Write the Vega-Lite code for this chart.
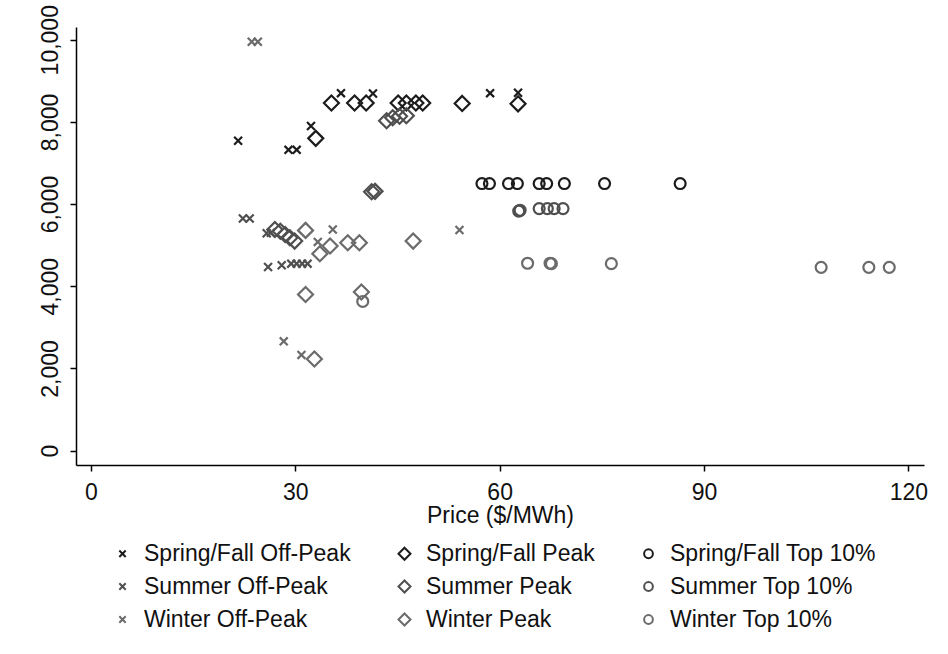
{
  "$schema": "https://vega.github.io/schema/vega-lite/v6.json",
  "width": 848,
  "height": 438,
  "autosize": {"type": "none"},
  "padding": {"left": 76, "top": 27, "right": 24, "bottom": 189},
  "background": "white",
  "config": {"view": {"stroke": null}, "font": "Liberation Sans"},
  "data": {
    "values": [
      {"group": "Spring/Fall Off-Peak", "price": 36.7, "load": 8700},
      {"group": "Spring/Fall Off-Peak", "price": 41.4, "load": 8690},
      {"group": "Spring/Fall Off-Peak", "price": 58.6, "load": 8700},
      {"group": "Spring/Fall Off-Peak", "price": 62.7, "load": 8710},
      {"group": "Spring/Fall Off-Peak", "price": 32.3, "load": 7900},
      {"group": "Spring/Fall Off-Peak", "price": 21.6, "load": 7540},
      {"group": "Spring/Fall Off-Peak", "price": 29.0, "load": 7320},
      {"group": "Spring/Fall Off-Peak", "price": 30.2, "load": 7320},
      {"group": "Spring/Fall Peak", "price": 35.3, "load": 8460},
      {"group": "Spring/Fall Peak", "price": 38.7, "load": 8460},
      {"group": "Spring/Fall Peak", "price": 40.4, "load": 8460},
      {"group": "Spring/Fall Peak", "price": 45.1, "load": 8460},
      {"group": "Spring/Fall Peak", "price": 46.3, "load": 8460},
      {"group": "Spring/Fall Peak", "price": 47.7, "load": 8460},
      {"group": "Spring/Fall Peak", "price": 48.7, "load": 8460},
      {"group": "Spring/Fall Peak", "price": 54.5, "load": 8450},
      {"group": "Spring/Fall Peak", "price": 62.7, "load": 8440},
      {"group": "Spring/Fall Peak", "price": 33.0, "load": 7600},
      {"group": "Spring/Fall Top 10%", "price": 57.4, "load": 6500},
      {"group": "Spring/Fall Top 10%", "price": 58.5, "load": 6500},
      {"group": "Spring/Fall Top 10%", "price": 61.3, "load": 6500},
      {"group": "Spring/Fall Top 10%", "price": 62.6, "load": 6500},
      {"group": "Spring/Fall Top 10%", "price": 65.8, "load": 6500},
      {"group": "Spring/Fall Top 10%", "price": 66.9, "load": 6500},
      {"group": "Spring/Fall Top 10%", "price": 69.5, "load": 6500},
      {"group": "Spring/Fall Top 10%", "price": 75.4, "load": 6500},
      {"group": "Spring/Fall Top 10%", "price": 86.5, "load": 6500},
      {"group": "Summer Off-Peak", "price": 22.3, "load": 5650},
      {"group": "Summer Off-Peak", "price": 23.3, "load": 5650},
      {"group": "Summer Off-Peak", "price": 25.8, "load": 5290},
      {"group": "Summer Off-Peak", "price": 26.4, "load": 5300},
      {"group": "Summer Off-Peak", "price": 29.4, "load": 4550},
      {"group": "Summer Off-Peak", "price": 30.2, "load": 4550},
      {"group": "Summer Off-Peak", "price": 31.0, "load": 4550},
      {"group": "Summer Off-Peak", "price": 31.8, "load": 4550},
      {"group": "Summer Off-Peak", "price": 26.0, "load": 4470},
      {"group": "Summer Off-Peak", "price": 28.0, "load": 4510},
      {"group": "Summer Peak", "price": 43.4, "load": 8030},
      {"group": "Summer Peak", "price": 44.3, "load": 8100},
      {"group": "Summer Peak", "price": 45.3, "load": 8140},
      {"group": "Summer Peak", "price": 46.3, "load": 8150},
      {"group": "Summer Peak", "price": 41.2, "load": 6300},
      {"group": "Summer Peak", "price": 41.7, "load": 6310},
      {"group": "Summer Peak", "price": 27.0, "load": 5380},
      {"group": "Summer Peak", "price": 27.8, "load": 5340},
      {"group": "Summer Peak", "price": 28.5, "load": 5260},
      {"group": "Summer Peak", "price": 29.2, "load": 5180},
      {"group": "Summer Peak", "price": 29.9, "load": 5100},
      {"group": "Summer Top 10%", "price": 62.8, "load": 5830},
      {"group": "Summer Top 10%", "price": 63.0, "load": 5850},
      {"group": "Summer Top 10%", "price": 65.8, "load": 5890},
      {"group": "Summer Top 10%", "price": 67.0, "load": 5890},
      {"group": "Summer Top 10%", "price": 68.0, "load": 5890},
      {"group": "Summer Top 10%", "price": 69.3, "load": 5890},
      {"group": "Winter Off-Peak", "price": 23.6, "load": 9950},
      {"group": "Winter Off-Peak", "price": 24.5, "load": 9950},
      {"group": "Winter Off-Peak", "price": 33.3, "load": 5080},
      {"group": "Winter Off-Peak", "price": 35.5, "load": 5380},
      {"group": "Winter Off-Peak", "price": 54.1, "load": 5370},
      {"group": "Winter Off-Peak", "price": 28.3, "load": 2660},
      {"group": "Winter Off-Peak", "price": 30.9, "load": 2330},
      {"group": "Winter Peak", "price": 31.5, "load": 5360},
      {"group": "Winter Peak", "price": 33.6, "load": 4790},
      {"group": "Winter Peak", "price": 35.1, "load": 4980},
      {"group": "Winter Peak", "price": 37.7, "load": 5060},
      {"group": "Winter Peak", "price": 39.4, "load": 5060},
      {"group": "Winter Peak", "price": 47.3, "load": 5100},
      {"group": "Winter Peak", "price": 31.5, "load": 3800},
      {"group": "Winter Peak", "price": 39.7, "load": 3860},
      {"group": "Winter Peak", "price": 32.8, "load": 2230},
      {"group": "Winter Top 10%", "price": 39.9, "load": 3630},
      {"group": "Winter Top 10%", "price": 64.1, "load": 4560},
      {"group": "Winter Top 10%", "price": 67.4, "load": 4560},
      {"group": "Winter Top 10%", "price": 67.6, "load": 4550},
      {"group": "Winter Top 10%", "price": 76.4, "load": 4550},
      {"group": "Winter Top 10%", "price": 107.2, "load": 4460},
      {"group": "Winter Top 10%", "price": 114.2, "load": 4460},
      {"group": "Winter Top 10%", "price": 117.2, "load": 4460}
    ]
  },
  "mark": {"type": "point", "filled": false, "strokeWidth": 2.2, "size": 225, "opacity": 1},
  "encoding": {
    "x": {
      "field": "price", "type": "quantitative",
      "scale": {"domain": [-2.2, 122.3], "nice": false, "zero": false},
      "axis": {
        "values": [0, 30, 60, 90, 120], "grid": false, "title": "Price ($/MWh)",
        "labelFontSize": 23, "titleFontSize": 23, "titleFontWeight": "normal",
        "tickSize": 6, "labelPadding": 10, "titlePadding": 0,
        "domainColor": "#000", "tickColor": "#000", "labelColor": "#111", "titleColor": "#111",
        "domainWidth": 1.5, "tickWidth": 1.5, "labelFlush": false, "labelOverlap": false
      }
    },
    "y": {
      "field": "load", "type": "quantitative",
      "scale": {"domain": [-350, 10310], "nice": false, "zero": false},
      "axis": {
        "values": [0, 2000, 4000, 6000, 8000, 10000], "grid": false, "title": null,
        "format": ",d", "labelAngle": 270, "labelAlign": "center", "labelBaseline": "alphabetic",
        "labelFontSize": 23, "tickSize": 6, "labelPadding": 13,
        "domainColor": "#000", "tickColor": "#000", "labelColor": "#111",
        "domainWidth": 1.5, "tickWidth": 1.5, "labelFlush": false, "labelOverlap": false
      }
    },
    "color": {
      "field": "group", "type": "nominal",
      "scale": {
        "domain": ["Spring/Fall Off-Peak", "Summer Off-Peak", "Winter Off-Peak", "Spring/Fall Peak", "Summer Peak", "Winter Peak", "Spring/Fall Top 10%", "Summer Top 10%", "Winter Top 10%"],
        "range": ["#1c1c1c", "#4f4f4f", "#6b6b6b", "#1c1c1c", "#4f4f4f", "#6b6b6b", "#1c1c1c", "#4f4f4f", "#6b6b6b"]
      },
      "legend": {
        "title": null, "orient": "none", "legendX": 35, "legendY": 515, "columns": 3,
        "labelFontSize": 23, "labelColor": "#111", "symbolSize": 144, "symbolStrokeWidth": 2,
        "rowPadding": 9, "columnPadding": 42, "labelOffset": 10, "padding": 0, "labelLimit": 0
      }
    },
    "shape": {
      "field": "group", "type": "nominal",
      "scale": {
        "domain": ["Spring/Fall Off-Peak", "Summer Off-Peak", "Winter Off-Peak", "Spring/Fall Peak", "Summer Peak", "Winter Peak", "Spring/Fall Top 10%", "Summer Top 10%", "Winter Top 10%"],
        "range": [
          "M-0.53,-0.53L0.53,0.53M-0.53,0.53L0.53,-0.53",
          "M-0.53,-0.53L0.53,0.53M-0.53,0.53L0.53,-0.53",
          "M-0.53,-0.53L0.53,0.53M-0.53,0.53L0.53,-0.53",
          "M0,-1L1,0L0,1L-1,0Z",
          "M0,-1L1,0L0,1L-1,0Z",
          "M0,-1L1,0L0,1L-1,0Z",
          "M0.73,0A0.73,0.73,0,1,1,-0.73,0A0.73,0.73,0,1,1,0.73,0Z",
          "M0.73,0A0.73,0.73,0,1,1,-0.73,0A0.73,0.73,0,1,1,0.73,0Z",
          "M0.73,0A0.73,0.73,0,1,1,-0.73,0A0.73,0.73,0,1,1,0.73,0Z"
        ]
      },
      "legend": {
        "title": null, "orient": "none", "legendX": 35, "legendY": 515, "columns": 3,
        "labelFontSize": 23, "labelColor": "#111", "symbolSize": 144, "symbolStrokeWidth": 2,
        "rowPadding": 9, "columnPadding": 42, "labelOffset": 10, "padding": 0, "labelLimit": 0
      }
    }
  }
}
